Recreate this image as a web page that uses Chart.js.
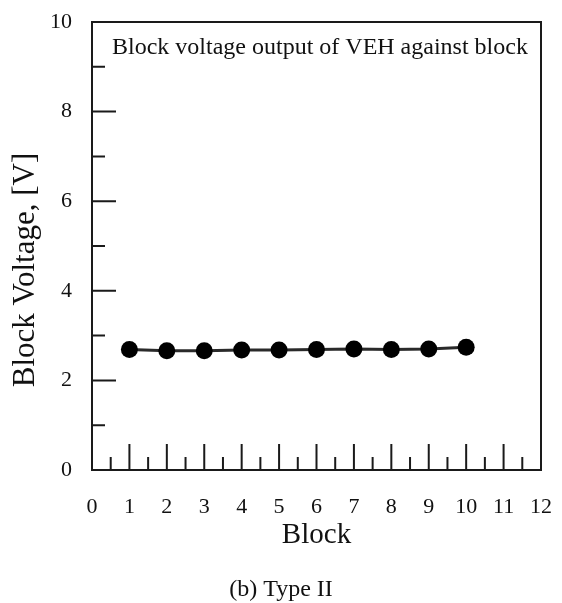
<!DOCTYPE html>
<html>
<head>
<meta charset="utf-8">
<script src="https://cdn.jsdelivr.net/npm/chart.js@4/dist/chart.umd.min.js"></script>
<style>
  html, body { margin: 0; padding: 0; background: #fff; }
  #wrap { width: 562px; height: 603px; }
</style>
</head>
<body>
<div id="wrap"><canvas id="voltChart" width="562" height="603"></canvas></div>
<script>
// Данные графика
const blocks = [1, 2, 3, 4, 5, 6, 7, 8, 9, 10];
const voltage = [2.69, 2.66, 2.66, 2.68, 2.68, 2.69, 2.70, 2.69, 2.70, 2.74];

// Деления осей
const xMajor = [1, 2, 3, 4, 5, 6, 7, 8, 9, 10, 11];
const xMinor = [0.5, 1.5, 2.5, 3.5, 4.5, 5.5, 6.5, 7.5, 8.5, 9.5, 10.5, 11.5];
const yMajor = [2, 4, 6, 8];
const yMinor = [1, 3, 5, 7, 9];

const titleText = 'Block voltage output of VEH against block';
const yTitle = 'Block Voltage, [V]';
const xTitle = 'Block';
const caption = '(b) Type II';

const serif = "'Liberation Serif', 'Times New Roman', serif";
Chart.defaults.font.family = serif;
Chart.defaults.color = '#111';

// Рамка, внутренние деления и подписи
const framePlugin = {
    id: 'frame',
    beforeDatasetsDraw(chart) {
        const { ctx, chartArea: a, scales } = chart;
        const x = scales.x, y = scales.y;
        ctx.save();
        ctx.strokeStyle = '#1a1a1a';
        ctx.lineWidth = 2;
        ctx.strokeRect(a.left, a.top, a.right - a.left, a.bottom - a.top);

        ctx.beginPath();
        xMajor.forEach(v => {
            const px = x.getPixelForValue(v);
            ctx.moveTo(px, a.bottom); ctx.lineTo(px, a.bottom - 26);
        });
        xMinor.forEach(v => {
            const px = x.getPixelForValue(v);
            ctx.moveTo(px, a.bottom); ctx.lineTo(px, a.bottom - 13);
        });
        yMajor.forEach(v => {
            const py = y.getPixelForValue(v);
            ctx.moveTo(a.left, py); ctx.lineTo(a.left + 24, py);
        });
        yMinor.forEach(v => {
            const py = y.getPixelForValue(v);
            ctx.moveTo(a.left, py); ctx.lineTo(a.left + 13, py);
        });
        ctx.stroke();

        ctx.fillStyle = '#111';
        ctx.textBaseline = 'middle';
        ctx.font = '24px ' + serif;
        ctx.textAlign = 'left';
        ctx.fillText(titleText, a.left + 20, a.top + 26);

        ctx.font = '31px ' + serif;
        ctx.textAlign = 'center';
        ctx.save();
        ctx.translate(26, 270);
        ctx.rotate(-Math.PI / 2);
        ctx.fillText(yTitle, 0, 0);
        ctx.restore();

        ctx.font = '24px ' + serif;
        ctx.fillText(caption, chart.width / 2, 590);
        ctx.restore();
    }
};

window.onload = function() {
    const ctx = document.getElementById('voltChart').getContext('2d');
    new Chart(ctx, {
        type: 'line',
        data: {
            datasets: [{
                data: blocks.map((b, i) => ({ x: b, y: voltage[i] })),
                borderColor: '#2a2a2a',
                borderWidth: 3,
                pointRadius: 8.5,
                pointBackgroundColor: '#000',
                pointBorderWidth: 0,
                tension: 0
            }]
        },
        options: {
            responsive: false,
            animation: false,
            layout: { padding: { top: 22, right: 21, bottom: 50, left: 0 } },
            plugins: {
                legend: { display: false },
                tooltip: { enabled: false }
            },
            scales: {
                x: {
                    type: 'linear',
                    min: 0,
                    max: 12,
                    grid: { display: false, drawTicks: false },
                    border: { display: false },
                    ticks: {
                        stepSize: 1,
                        autoSkip: false,
                        maxRotation: 0,
                        padding: 24,
                        font: { size: 22 },
                        color: '#111'
                    },
                    title: {
                        display: true,
                        text: xTitle,
                        font: { size: 29 },
                        color: '#111',
                        padding: 0
                    },
                    afterFit(scale) {
                        scale.height = 83;
                        scale.paddingLeft = 0;
                        scale.paddingRight = 0;
                    }
                },
                y: {
                    min: 0,
                    max: 10,
                    grid: { display: false, drawTicks: false },
                    border: { display: false },
                    ticks: {
                        stepSize: 2,
                        padding: 20,
                        font: { size: 22 },
                        color: '#111'
                    },
                    afterFit(scale) {
                        scale.width = 92;
                        scale.paddingTop = 0;
                        scale.paddingBottom = 0;
                    }
                }
            }
        },
        plugins: [framePlugin]
    });
};
</script>
</body>
</html>
